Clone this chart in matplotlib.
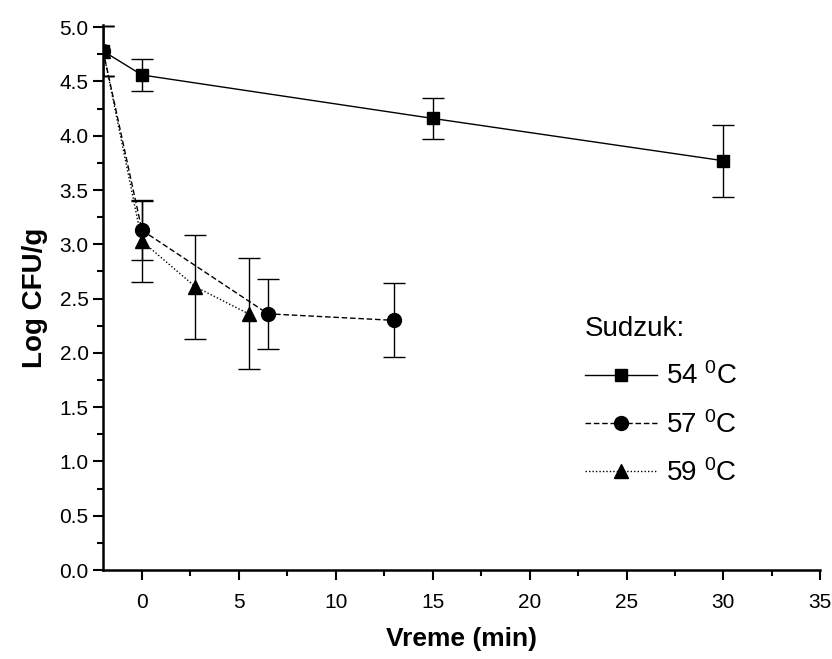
import matplotlib
matplotlib.use("Agg")
import matplotlib.pyplot as plt
from matplotlib.ticker import MultipleLocator, FormatStrFormatter

plt.rcParams['font.family'] = ['Liberation Sans', 'DejaVu Sans']
plt.rcParams['mathtext.fontset'] = 'custom'
plt.rcParams['mathtext.rm'] = 'Liberation Sans'
plt.rcParams['mathtext.default'] = 'rm'

x54 = [-2, 0, 15, 30]
y54 = [4.78, 4.56, 4.16, 3.77]
e54 = [0.23, 0.15, 0.19, 0.33]

x57 = [-2, 0, 6.5, 13]
y57 = [4.78, 3.13, 2.36, 2.30]
e57 = [0.23, 0.27, 0.32, 0.34]

x59 = [-2, 0, 2.75, 5.5]
y59 = [4.78, 3.03, 2.61, 2.36]
e59 = [0.23, 0.38, 0.48, 0.51]

labels = ["54 $^0$C", "57 $^0$C", "59 $^0$C"]
legend_title = "Sudzuk:"

fig = plt.figure(figsize=(8.32, 6.59), dpi=100)
ax = fig.add_axes([0.124, 0.135, 0.862, 0.827])

common = dict(color='black', ecolor='black', elinewidth=1.0, capsize=8, capthick=1.0, lw=1.0)
ax.errorbar(x54, y54, yerr=e54, marker='s', markersize=9, ls='-', label=labels[0], **common)
ax.errorbar(x57, y57, yerr=e57, marker='o', markersize=10, ls=(0, (4, 2)), label=labels[1], **common)
ax.errorbar(x59, y59, yerr=e59, marker='^', markersize=10, ls=(0, (1, 1.5)), label=labels[2], **common)

ax.set_xlim(-2, 35)
ax.set_ylim(0, 5.02)
ax.xaxis.set_major_locator(MultipleLocator(5))
ax.xaxis.set_minor_locator(MultipleLocator(2.5))
ax.yaxis.set_major_locator(MultipleLocator(0.5))
ax.yaxis.set_minor_locator(MultipleLocator(0.25))
ax.yaxis.set_major_formatter(FormatStrFormatter('%.1f'))
for s in ['top', 'right']:
    ax.spines[s].set_visible(False)
for s in ['left', 'bottom']:
    ax.spines[s].set_linewidth(1.8)
ax.tick_params(which='major', direction='out', length=7.5, width=1.5, labelsize=15)
ax.tick_params(which='minor', direction='out', length=4, width=1.5)
ax.tick_params(axis='x', which='major', pad=9)
ax.tick_params(axis='y', which='major', pad=3)

ax.set_xlabel("Vreme (min)", fontsize=19, fontweight='bold', labelpad=11)
ax.set_ylabel("Log CFU/g", fontsize=20, fontweight='bold', labelpad=8)

handles, labs = ax.get_legend_handles_labels()
handles = [h[0] for h in handles]
leg = fig.legend(handles, labs, title=legend_title, loc='upper left',
                 bbox_to_anchor=(585 / 832, 1 - 316 / 659),
                 frameon=False, fontsize=20, title_fontsize=20, handlelength=2.6,
                 handletextpad=0.3, borderpad=0, borderaxespad=0,
                 labelspacing=0.74, alignment='left')

fig.savefig("out.png", dpi=100)
